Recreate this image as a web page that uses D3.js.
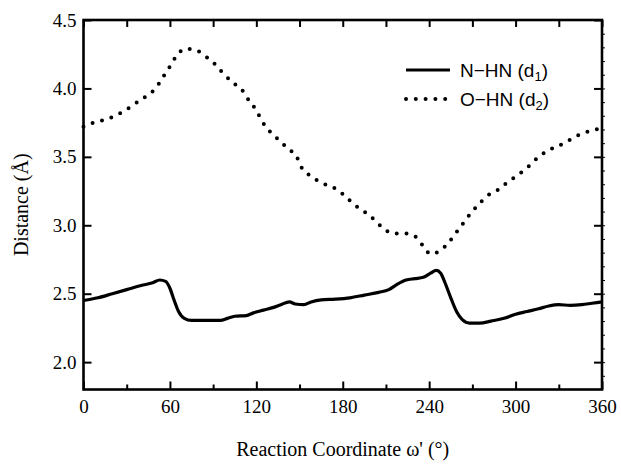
<!DOCTYPE html>
<html>
<head>
<meta charset="utf-8">
<script src="https://cdn.jsdelivr.net/npm/d3@7"></script>
<style>
body { margin: 0; background: #fff; }
svg text { fill: #000; }
.serif { font-family: 'Liberation Serif', 'Times New Roman', serif; }
.sans { font-family: 'Liberation Sans', Arial, sans-serif; }
</style>
</head>
<body>
<div id="chart"></div>
<script>
// data
d1_angle = [0, 10, 20, 30, 40, 48, 53, 57, 60, 63, 66, 70, 75, 85, 95, 100, 105, 113, 118, 125, 132, 137, 143, 147, 153, 158, 165, 175, 185, 195, 205, 212, 218, 224, 230, 236, 241, 245, 248, 251, 255, 259, 263, 268, 275, 283, 292, 300, 308, 316, 323, 330, 338, 346, 353, 360];
d1_value = [2.45, 2.47, 2.50, 2.53, 2.56, 2.58, 2.60, 2.59, 2.54, 2.45, 2.37, 2.32, 2.305, 2.305, 2.305, 2.32, 2.335, 2.34, 2.36, 2.38, 2.40, 2.42, 2.44, 2.425, 2.42, 2.44, 2.455, 2.46, 2.47, 2.49, 2.51, 2.53, 2.57, 2.60, 2.61, 2.62, 2.65, 2.67, 2.65, 2.58, 2.47, 2.37, 2.31, 2.285, 2.285, 2.30, 2.32, 2.35, 2.37, 2.39, 2.41, 2.42, 2.415, 2.42, 2.43, 2.44];

d2_angle = [0, 7, 14, 22, 29, 36, 43, 50, 55, 60, 64, 71, 78, 84, 91, 97, 104, 110, 115, 120, 124, 129, 136, 142, 148, 152, 158, 165, 173, 181, 188, 195, 202, 209, 215, 223, 230, 235, 241, 247, 254, 259, 264, 269, 275, 281, 288, 295, 302, 309, 316, 323, 330, 337, 344, 352, 360];
d2_value = [3.72, 3.75, 3.77, 3.80, 3.84, 3.89, 3.94, 4.00, 4.08, 4.16, 4.23, 4.29, 4.28, 4.24, 4.18, 4.11, 4.04, 3.99, 3.91, 3.84, 3.76, 3.69, 3.62, 3.56, 3.50, 3.41, 3.36, 3.31, 3.28, 3.22, 3.15, 3.10, 3.04, 2.97, 2.94, 2.94, 2.92, 2.86, 2.79, 2.81, 2.88, 2.95, 3.02, 3.09, 3.16, 3.22, 3.26, 3.32, 3.37, 3.43, 3.50, 3.55, 3.58, 3.62, 3.66, 3.69, 3.71];

x_ticks = [0, 60, 120, 180, 240, 300, 360];
x_minor = [30, 90, 150, 210, 270, 330];
y_ticks = [2.0, 2.5, 3.0, 3.5, 4.0, 4.5];

// chart settings
width = 621;
height = 464;
margin = {top: 20, right: 19, bottom: 74.5, left: 83.5};
plot_w = width - margin.left - margin.right;
plot_h = height - margin.top - margin.bottom;

// scales
x_scale = d3.scaleLinear().domain([0, 360]).range([0, plot_w]);
y_scale = d3.scaleLinear().domain([1.8, 4.5]).range([plot_h, 0]);

var svg = d3.select('#chart')
	.append('svg')
	.attr('width', width)
	.attr('height', height);

var g = svg.append('g')
	.attr('transform', `translate(${margin.left},${margin.top})`);

// axes: ticks point inward
function style_axis(sel) {
	sel.attr('font-family', null).attr('font-size', null);
	sel.select('.domain').remove();
	sel.selectAll('line').attr('stroke', '#000').attr('stroke-width', 2);
	sel.selectAll('text').attr('class', 'serif').style('font-size', '19px');
}

g.append('g')
	.attr('transform', `translate(0,${plot_h})`)
	.call(d3.axisBottom(x_scale).tickValues(x_ticks).tickSize(-8).tickPadding(10).tickFormat(d3.format('d')))
	.call(style_axis);
g.append('g')
	.attr('transform', `translate(0,${plot_h})`)
	.call(d3.axisBottom(x_scale).tickValues(x_minor).tickSize(-5).tickFormat(''))
	.call(style_axis);
g.append('g')
	.call(d3.axisTop(x_scale).tickValues(x_ticks.concat(x_minor)).tickSize(-7).tickFormat(''))
	.call(style_axis);

g.append('g')
	.call(d3.axisLeft(y_scale).tickValues(y_ticks).tickSize(-8).tickPadding(7).tickFormat(d3.format('.1f')))
	.call(style_axis);
g.append('g')
	.attr('transform', `translate(${plot_w},0)`)
	.call(d3.axisRight(y_scale).tickValues(y_ticks).tickSize(-8).tickFormat(''))
	.call(style_axis);
g.append('g')
	.attr('transform', `translate(${plot_w},0)`)
	.call(d3.axisRight(y_scale).tickValues(d3.range(19, 45).map(v => v / 10)).tickSize(3).tickFormat(''))
	.call(style_axis)
	.selectAll('line').attr('stroke-width', 1);

// frame
g.append('rect')
	.attr('width', plot_w)
	.attr('height', plot_h)
	.attr('fill', 'none')
	.attr('stroke', '#000')
	.attr('stroke-width', 2.6);

// lines
var line = d3.line()
	.x(d => x_scale(d[0]))
	.y(d => y_scale(d[1]))
	.curve(d3.curveMonotoneX);

g.append('path')
	.datum(d3.zip(d1_angle, d1_value))
	.attr('d', line)
	.attr('fill', 'none')
	.attr('stroke', '#000')
	.attr('stroke-width', 3.2)
	.attr('stroke-linejoin', 'round');

g.append('path')
	.datum(d3.zip(d2_angle, d2_value))
	.attr('d', line)
	.attr('fill', 'none')
	.attr('stroke', '#000')
	.attr('stroke-width', 4)
	.attr('stroke-linecap', 'round')
	.attr('stroke-dasharray', '0 9.8');

// legend
legend = [
	{name: 'N\u2212HN (d', sub: '1', dash: null, width: 3.2},
	{name: 'O\u2212HN (d', sub: '2', dash: '0 9.8', width: 4}
];
var lg = svg.append('g').attr('transform', 'translate(405,70)');
legend.forEach((d, i) => {
	var row = lg.append('g').attr('transform', `translate(0,${i * 29})`);
	row.append('line')
		.attr('x1', 1).attr('x2', 45)
		.attr('stroke', '#000')
		.attr('stroke-width', d.width)
		.attr('stroke-linecap', d.dash ? 'round' : 'butt')
		.attr('stroke-dasharray', d.dash);
	var t = row.append('text')
		.attr('class', 'sans')
		.attr('x', 55).attr('y', 7)
		.style('font-size', '19px');
	t.append('tspan').text(d.name);
	t.append('tspan').attr('dy', 4).style('font-size', '13px').text(d.sub);
	t.append('tspan').attr('dy', -4).text(')');
});

// axis titles
svg.append('text')
	.attr('class', 'serif')
	.attr('x', margin.left + plot_w / 2)
	.attr('y', 456)
	.attr('text-anchor', 'middle')
	.style('font-size', '20px')
	.text('Reaction Coordinate \u03c9\' (\u00b0)');

svg.append('text')
	.attr('class', 'serif')
	.attr('transform', `translate(28,${margin.top + plot_h / 2}) rotate(-90)`)
	.attr('text-anchor', 'middle')
	.style('font-size', '20px')
	.text('Distance (\u00c5)');
</script>
</body>
</html>
